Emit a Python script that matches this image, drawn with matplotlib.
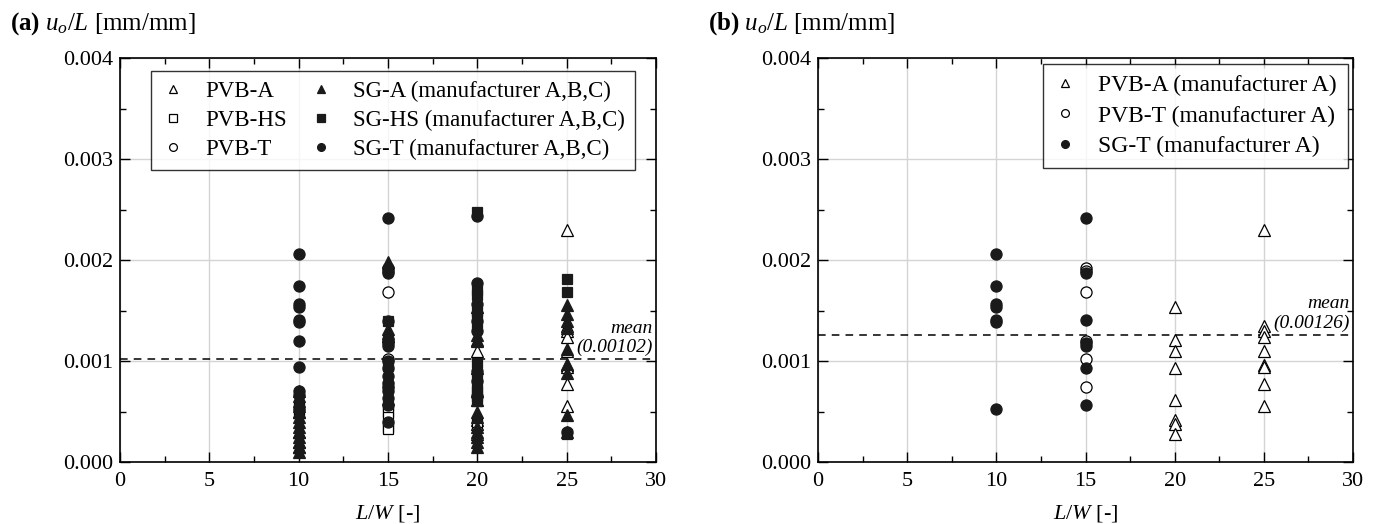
import matplotlib
matplotlib.use("Agg")
import matplotlib.pyplot as plt
from matplotlib.ticker import MultipleLocator, FormatStrFormatter

plt.rcParams['font.family'] = ['Liberation Serif', 'DejaVu Serif']
plt.rcParams['mathtext.fontset'] = 'custom'
plt.rcParams['mathtext.rm'] = 'Liberation Serif'
plt.rcParams['mathtext.it'] = 'Liberation Serif:italic'
plt.rcParams['mathtext.bf'] = 'Liberation Serif:bold'

# ---------------- data (values in 1e-3 mm/mm) ----------------
# Panel (a)
a_pvb_a = {10: [0.50, 0.30, 0.20, 0.15],
           20: [1.53, 1.21, 1.10, 0.93, 0.61, 0.42, 0.38, 0.28],
           25: [2.30, 1.35, 1.30, 1.24, 1.10, 0.96, 0.94, 0.77, 0.55]}
a_pvb_hs = {10: [0.55, 0.50],
            15: [0.55, 0.50, 0.45, 0.35, 0.33],
            20: [0.40]}
a_pvb_t = {15: [1.92, 1.89, 1.68, 1.20, 1.02, 0.74]}
a_sg_a = {10: [0.70, 0.65, 0.60, 0.55, 0.50, 0.45, 0.40, 0.35, 0.30, 0.25, 0.20, 0.15, 0.10],
          15: [1.98, 1.32, 1.28, 1.25, 0.62],
          20: [1.26, 1.20, 0.70, 0.50, 0.45, 0.35, 0.30, 0.25, 0.20, 0.15],
          25: [1.55, 1.47, 1.40, 1.33, 1.12, 0.97, 0.88, 0.47, 0.30]}
a_sg_hs = {15: [1.40, 1.20, 0.95, 0.75],
           20: [2.48, 1.70, 1.65, 1.50, 1.45, 1.35, 0.98, 0.85, 0.75, 0.70, 0.65, 0.60],
           25: [1.81, 1.68, 0.28]}
a_sg_t = {10: [2.06, 1.74, 1.56, 1.53, 1.41, 1.39, 1.20, 0.94, 0.70, 0.66, 0.52],
          15: [2.42, 1.87, 1.40, 1.18, 1.15, 1.00, 0.93, 0.85, 0.78, 0.70, 0.63, 0.56, 0.40],
          20: [2.44, 1.77, 1.56, 1.40, 1.30, 0.90, 0.80, 0.65],
          25: [0.30]}
mean_a = 0.00102

# Panel (b)
b_pvb_a = {20: [1.53, 1.21, 1.10, 0.93, 0.61, 0.42, 0.38, 0.28],
           25: [2.30, 1.35, 1.30, 1.24, 1.10, 0.96, 0.94, 0.77, 0.55]}
b_pvb_t = {15: [1.92, 1.89, 1.68, 1.20, 1.02, 0.74]}
b_sg_t = {10: [2.06, 1.74, 1.56, 1.53, 1.41, 1.39, 0.52],
          15: [2.42, 1.87, 1.41, 1.18, 1.15, 0.93, 0.56]}
mean_b = 0.00126

labels_a = ['PVB-A', 'PVB-HS', 'PVB-T',
            'SG-A (manufacturer A,B,C)', 'SG-HS (manufacturer A,B,C)', 'SG-T (manufacturer A,B,C)']
labels_b = ['PVB-A (manufacturer A)', 'PVB-T (manufacturer A)', 'SG-T (manufacturer A)']


def flat(d):
    xs, ys = [], []
    for k, vals in d.items():
        for v in vals:
            xs.append(k)
            ys.append(v * 1e-3)
    return xs, ys


def style_ax(ax):
    ax.set_xlim(0, 30)
    ax.set_ylim(0, 0.004)
    ax.xaxis.set_major_locator(MultipleLocator(5))
    ax.xaxis.set_minor_locator(MultipleLocator(2.5))
    ax.yaxis.set_major_locator(MultipleLocator(0.001))
    ax.yaxis.set_minor_locator(MultipleLocator(0.0005))
    ax.yaxis.set_major_formatter(FormatStrFormatter('%.3f'))
    ax.tick_params(which='both', direction='in', top=True, right=True, labelsize=16, width=1.0)
    ax.tick_params(which='major', length=7)
    ax.tick_params(which='minor', length=4)
    ax.tick_params(axis='x', pad=7)
    ax.tick_params(axis='y', pad=5)
    ax.grid(True, which='major', color='#d4d4d4', linewidth=1.0, zorder=0)
    ax.set_axisbelow(True)
    for s in ax.spines.values():
        s.set_linewidth(1.2)
    ax.set_xlabel(r'$\mathit{L/W}$ [-]', fontsize=16, labelpad=9)


fig = plt.figure(figsize=(13.78, 5.24), dpi=100)
bot = 1 - 462 / 524
top = 1 - 58 / 524
axa = fig.add_axes([120 / 1378, bot, 536 / 1378, top - bot])
axb = fig.add_axes([818 / 1378, bot, 535 / 1378, top - bot])

fig.text(10 / 1378, 1 - 30 / 524, r'$\mathbf{(a)}\ \mathit{u_o/L}$ [mm/mm]',
         fontsize=18, ha='left', va='baseline')
fig.text(708 / 1378, 1 - 30 / 524, r'$\mathbf{(b)}\ \mathit{u_o/L}$ [mm/mm]',
         fontsize=18, ha='left', va='baseline')

open_kw = dict(mfc='white', mec='black', mew=0.9, ls='none', zorder=3)
fill_kw = dict(mfc='#1a1a1a', mec='#1a1a1a', mew=0.9, ls='none', zorder=3)
msize = {'^': 8.5, 's': 7.5, 'o': 8}

# Panel a
h = []
for d, m, kw, lab in [(a_pvb_a, '^', open_kw, labels_a[0]),
                      (a_pvb_hs, 's', open_kw, labels_a[1]),
                      (a_pvb_t, 'o', open_kw, labels_a[2]),
                      (a_sg_a, '^', fill_kw, labels_a[3]),
                      (a_sg_hs, 's', fill_kw, labels_a[4]),
                      (a_sg_t, 'o', fill_kw, labels_a[5])]:
    xs, ys = flat(d)
    ln, = axa.plot(xs, ys, marker=m, ms=msize[m], label=lab, **kw)
    h.append(ln)
axa.axhline(mean_a, color='black', ls=(0, (5, 4)), lw=1.1, zorder=2)
axa.text(29.8, mean_a + 0.00003, 'mean\n(0.00102)', style='italic', fontsize=14,
         ha='right', va='bottom', multialignment='right', linespacing=1.15)
style_ax(axa)
leg = axa.legend(handles=h, ncol=2, loc='upper left', bbox_to_anchor=(0.058, 0.968),
                 borderaxespad=0, fontsize=16.5, frameon=True, fancybox=False,
                 edgecolor='black', handlelength=1.0, handletextpad=0.9, columnspacing=1.0,
                 labelspacing=0.33, borderpad=0.45, markerscale=0.7)
leg.get_frame().set_linewidth(1.0)

# Panel b
h = []
for d, m, kw, lab in [(b_pvb_a, '^', open_kw, labels_b[0]),
                      (b_pvb_t, 'o', open_kw, labels_b[1]),
                      (b_sg_t, 'o', fill_kw, labels_b[2])]:
    xs, ys = flat(d)
    ln, = axb.plot(xs, ys, marker=m, ms=msize[m], label=lab, **kw)
    h.append(ln)
axb.axhline(mean_b, color='black', ls=(0, (5, 4)), lw=1.1, zorder=2)
axb.text(29.8, mean_b + 0.00003, 'mean\n(0.00126)', style='italic', fontsize=14,
         ha='right', va='bottom', multialignment='right', linespacing=1.15)
style_ax(axb)
leg = axb.legend(handles=h, loc='upper right', bbox_to_anchor=(0.99, 0.985),
                 borderaxespad=0, fontsize=17, frameon=True, fancybox=False,
                 edgecolor='black', handlelength=1.0, handletextpad=0.9,
                 labelspacing=0.38, borderpad=0.45, markerscale=0.7)
leg.get_frame().set_linewidth(1.0)

fig.savefig('out.png', dpi=100)
